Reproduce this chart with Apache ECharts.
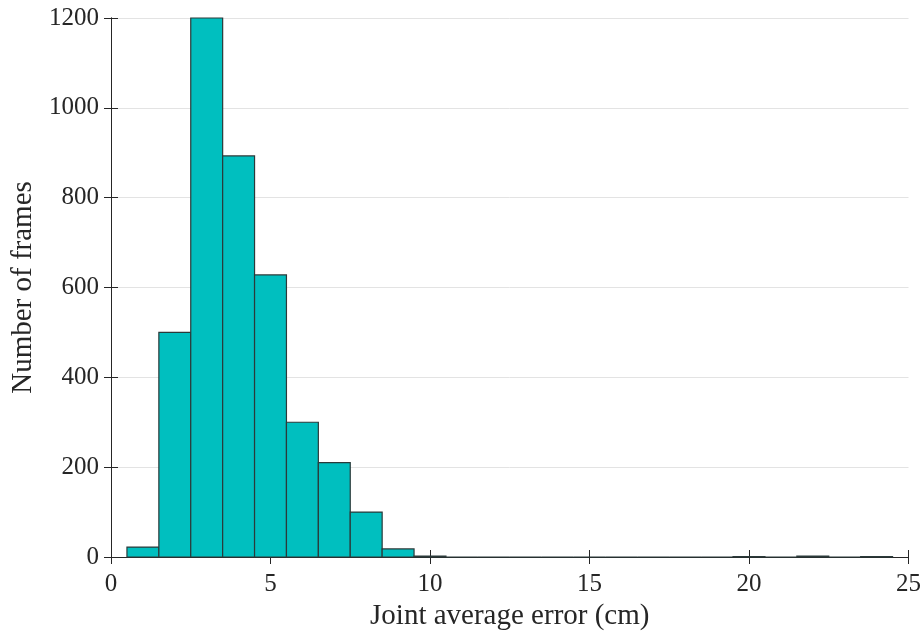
<!DOCTYPE html>
<html>
<head>
<meta charset="utf-8">
<script src="https://cdn.jsdelivr.net/npm/echarts@6/dist/echarts.min.js"></script>
<style>html,body{margin:0;padding:0;background:#fff;}#c{width:924px;height:641px;}</style>
</head>
<body>
<div id="c"></div>
<script>
const binCenters = [1,2,3,4,5,6,7,8,9,10,11,12,13,14,15,16,17,18,19,20,21,22,23,24];
const counts     = [22,500,1200,893,628,300,210,100,18,2,0,0,0,0,0,0,0,0,0,1,0,2,0,1];
const binWidth = 1;
const xTicks = [0,5,10,15,20,25];
const yTicks = [0,200,400,600,800,1000,1200];
const xTitle = 'Joint average error (cm)';
const yTitle = 'Number of frames';

const font = '"Liberation Serif", "Times New Roman", serif';
const data = binCenters.map((c, i) => [c - binWidth/2, c + binWidth/2, counts[i]]);
const fmt = v => String(v);

const chart = echarts.init(document.getElementById('c'));
const axisLineStyle = { color: '#262626', width: 1 };
chart.setOption({
  animation: false,
  grid: { left: 111, right: 15, top: 18, bottom: 84 },
  xAxis: [{
    type: 'value', min: xTicks[0], max: xTicks[xTicks.length-1], interval: 5,
    name: xTitle, nameLocation: 'middle', nameGap: 45,
    nameTextStyle: { fontFamily: font, fontSize: 29, color: '#262626' },
    axisLine: { show: true, lineStyle: axisLineStyle },
    axisTick: { show: true, inside: true, length: 7, lineStyle: axisLineStyle },
    axisLabel: { fontFamily: font, fontSize: 25, color: '#262626', margin: 15, formatter: fmt },
    splitLine: { show: false }
  }, {
    type: 'value', position: 'top', min: xTicks[0], max: xTicks[xTicks.length-1], interval: 5,
    axisLine: { show: true, lineStyle: axisLineStyle },
    axisTick: { show: true, inside: true, length: 7, lineStyle: axisLineStyle },
    axisLabel: { show: false }, splitLine: { show: false }
  }],
  yAxis: [{
    type: 'value', min: yTicks[0], max: yTicks[yTicks.length-1], interval: 200,
    name: yTitle, nameLocation: 'middle', nameGap: 73, nameRotate: 90,
    nameTextStyle: { fontFamily: font, fontSize: 29, color: '#262626' },
    axisLine: { show: true, lineStyle: axisLineStyle },
    axisTick: { show: true, inside: true, length: 7, lineStyle: axisLineStyle },
    axisLabel: { fontFamily: font, fontSize: 25, color: '#262626', margin: 12, formatter: fmt },
    splitLine: { show: true, lineStyle: { color: '#e3e3e3', width: 1 } }
  }, {
    type: 'value', position: 'right', min: yTicks[0], max: yTicks[yTicks.length-1], interval: 200,
    axisLine: { show: true, lineStyle: axisLineStyle },
    axisTick: { show: true, inside: true, length: 7, lineStyle: axisLineStyle },
    axisLabel: { show: false }, splitLine: { show: false }
  }],
  series: [{
    type: 'custom',
    xAxisIndex: 0, yAxisIndex: 0,
    data: data,
    renderItem: function (params, api) {
      const p0 = api.coord([api.value(0), 0]);
      const p1 = api.coord([api.value(1), api.value(2)]);
      return {
        type: 'rect',
        shape: { x: p0[0], y: p1[1], width: p1[0] - p0[0], height: p0[1] - p1[1] },
        style: { fill: '#00bfbf', stroke: '#2b3a3a', lineWidth: 1.2 }
      };
    },
    encode: { x: [0, 1], y: 2 },
    z: 3
  }]
});
</script>
</body>
</html>
